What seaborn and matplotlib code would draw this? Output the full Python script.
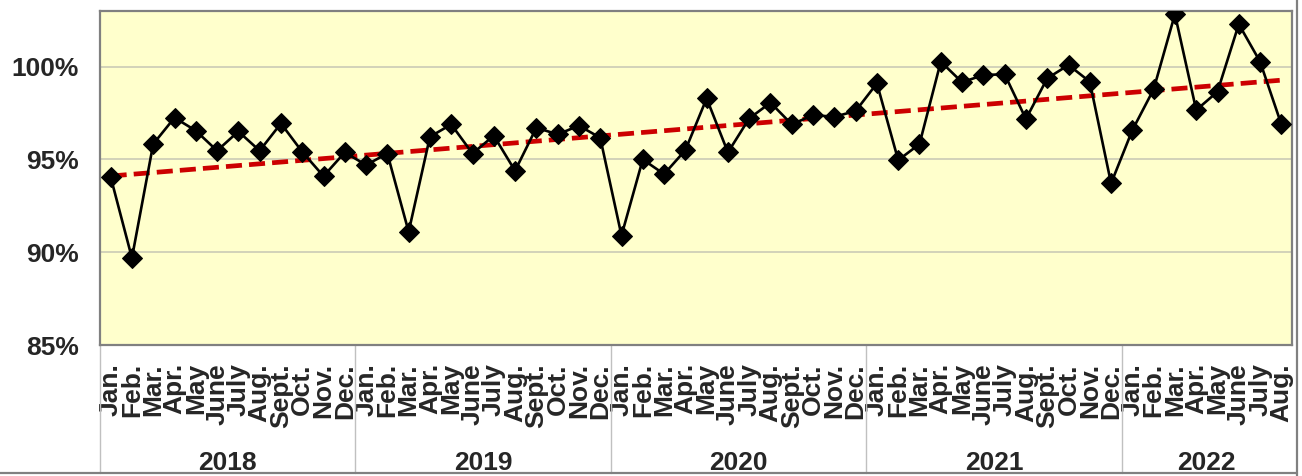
import numpy as np
import pandas as pd
import matplotlib
matplotlib.use("Agg")
import matplotlib.pyplot as plt
from matplotlib.lines import Line2D
import seaborn as sns

# ---- data ----
years = ["2018", "2019", "2020", "2021", "2022"]
months_full = ["Jan.", "Feb.", "Mar.", "Apr.", "May", "June", "July", "Aug.",
               "Sept.", "Oct.", "Nov.", "Dec."]
months_per_year = [12, 12, 12, 12, 8]
values_2018 = [94.06, 89.69, 95.83, 97.25, 96.55, 95.47, 96.51, 95.47, 96.94, 95.41, 94.10, 95.38]
values_2019 = [94.70, 95.32, 91.10, 96.22, 96.89, 95.32, 96.28, 94.39, 96.71, 96.35, 96.82, 96.17]
values_2020 = [90.90, 95.00, 94.21, 95.50, 98.29, 95.38, 97.21, 98.06, 96.89, 97.39, 97.30, 97.61]
values_2021 = [99.10, 94.96, 95.83, 100.27, 99.16, 99.55, 99.59, 97.18, 99.37, 100.09, 99.19, 93.71]
values_2022 = [96.58, 98.78, 102.83, 97.66, 98.65, 102.29, 100.27, 96.89]

values = values_2018 + values_2019 + values_2020 + values_2021 + values_2022
month_labels = []
year_of = []
for y, n in zip(years, months_per_year):
    month_labels += months_full[:n]
    year_of += [y] * n

df = pd.DataFrame({"idx": np.arange(len(values)), "value": values,
                   "month": month_labels, "year": year_of})

# ---- figure ----
W, H, DPI = 1302, 476, 100
fig = plt.figure(figsize=(W / DPI, H / DPI), dpi=DPI)
sns.set_style("white")
plt.rcParams["font.family"] = ["Liberation Sans", "DejaVu Sans"]

L, R, T, B = 100, 1292, 11, 345
ax = fig.add_axes([L / W, 1 - B / H, (R - L) / W, (B - T) / H])
ax.set_facecolor("#FFFFCC")

n = len(values)
ax.set_xlim(-0.5, n - 0.5)
ax.set_ylim(85, 103)

# gridlines
ax.set_yticks([85, 90, 95, 100])
ax.set_yticklabels(["85%", "90%", "95%", "100%"], fontsize=19, fontweight="bold")
ax.yaxis.grid(True, color="#CFCFB8", lw=1.3, zorder=0)
ax.set_axisbelow(True)
ax.tick_params(axis="y", length=7, width=1.3, color="#808080", pad=8)

# trend line
sns.regplot(data=df, x="idx", y="value", scatter=False, ci=None, truncate=True,
            line_kws=dict(color="#CC0000", lw=3.4, ls=(0, (3.4, 1.5)), zorder=3), ax=ax)

# main series
sns.lineplot(data=df, x="idx", y="value", color="black", lw=1.9, marker="D",
             markersize=10, markeredgecolor="black", markerfacecolor="black",
             zorder=4, ax=ax)

ax.set_xlabel("")
ax.set_ylabel("")

# month labels
ax.set_xticks(np.arange(n))
ax.set_xticklabels(month_labels, rotation=90, fontsize=19, fontweight="bold",
                   va="top", ha="center")
ax.tick_params(axis="x", which="major", length=0, pad=13)

# month separators (minor ticks)
ax.set_xticks(np.arange(n + 1) - 0.5, minor=True)
ax.tick_params(axis="x", which="minor", length=61, width=1.0, color="#C8C8C8")
ax.set_xlim(-0.5, n - 0.5)

for s in ax.spines.values():
    s.set_color("#808080")
    s.set_linewidth(1.6)

# year separators and labels
trans = ax.get_xaxis_transform()
axh = B - T
bottom_y = -(473 - B) / axh
start = 0
for y, m in zip(years, months_per_year):
    ax.plot([start - 0.5, start - 0.5], [0, bottom_y], transform=trans,
            color="#C0C0C0", lw=1.0, clip_on=False)
    ax.text(start + (m - 1) / 2, -(463 - B) / axh, y, transform=trans,
            ha="center", va="center", fontsize=19, fontweight="bold")
    start += m

# chart frame (right and bottom)
fig.add_artist(Line2D([1297 / W, 1297 / W], [0, 1], color="#808080", lw=1.6))
fig.add_artist(Line2D([0, 1297 / W], [3 / H, 3 / H], color="#808080", lw=1.6))

fig.savefig("out.png", dpi=DPI)
